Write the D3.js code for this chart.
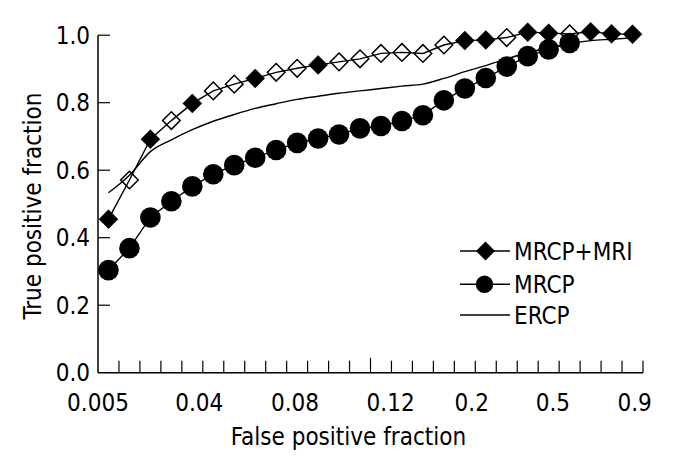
<!DOCTYPE html>
<html>
<head>
<meta charset="utf-8">
<script src="https://cdn.jsdelivr.net/npm/d3@7"></script>
<style>
  html, body { margin: 0; padding: 0; background: #fff; }
  svg text { font-family: "DejaVu Sans Condensed", "DejaVu Sans", sans-serif; font-stretch: condensed; fill: #000; }
</style>
</head>
<body>
<svg id="chart" width="684" height="459"></svg>
<script>
// ---- data ----
const seriesNames = ["MRCP+MRI", "MRCP", "ERCP"];
const xTickLabels = ["0.005", "0.04", "0.08", "0.12", "0.2", "0.5", "0.9"];
// position of each x tick label, in units of point index
const xTickLabelAt = [0, 4.83, 9.4, 13.96, 17.83, 21.7, 25.6];
const yTickValues = [0, 0.2, 0.4, 0.6, 0.8, 1.0];
const nCategories = 26;

const mrcpMri = [0.455, 0.571, 0.692, 0.747, 0.798, 0.835, 0.855, 0.872, 0.890, 0.902,
                 0.912, 0.921, 0.930, 0.946, 0.949, 0.946, 0.971, 0.984, 0.986, 0.993,
                 1.009, 1.006, 1.004, 1.010, 1.004, 1.003];
// which MRCP+MRI points are drawn hollow
const mrcpMriHollow = [0,1,0,1,0,1,1,0,1,1,0,1,1,1,1,1,1,0,0,1,0,0,1,0,0,0];
const mrcp = [0.304, 0.369, 0.460, 0.508, 0.552, 0.588, 0.615, 0.637, 0.660, 0.681,
              0.694, 0.706, 0.724, 0.731, 0.746, 0.763, 0.807, 0.842, 0.873, 0.907,
              0.938, 0.958, 0.977];
const ercp = [0.533, 0.585, 0.655, 0.690, 0.720, 0.745, 0.765, 0.783, 0.797, 0.810,
              0.819, 0.828, 0.835, 0.842, 0.849, 0.855, 0.872, 0.892, 0.910, 0.930,
              0.948, 0.962, 0.975, 0.984, 0.988, 0.992];

// ---- layout ----
const svg = d3.select("#chart");
const pLeft = 98, pRight = 643, pTop = 35.2, pBottom = 372.7;
const x = d3.scaleLinear().domain([0, nCategories]).range([pLeft, pRight]);
const y = d3.scaleLinear().domain([0, 1]).range([pBottom, pTop]);
const cx = i => x(i + 0.5);

// axes lines
const g = svg.append("g");
g.append("line").attr("x1", pLeft).attr("x2", pLeft).attr("y1", pTop).attr("y2", pBottom)
  .attr("stroke", "#000").attr("stroke-width", 1.5);
g.append("line").attr("x1", pLeft).attr("x2", pRight).attr("y1", pBottom).attr("y2", pBottom)
  .attr("stroke", "#000").attr("stroke-width", 1.5);

// x tick marks (inward)
g.selectAll(".xt").data(d3.range(1, nCategories + 1)).enter().append("line")
  .attr("x1", d => x(d)).attr("x2", d => x(d))
  .attr("y1", pBottom).attr("y2", d => pBottom - (d === 13 ? 15 : 12))
  .attr("stroke", "#000").attr("stroke-width", 1.2);

// y tick marks (inward)
g.selectAll(".yt").data(yTickValues.filter(v => v > 0)).enter().append("line")
  .attr("x1", pLeft).attr("x2", pLeft + 12)
  .attr("y1", d => y(d)).attr("y2", d => y(d))
  .attr("stroke", "#000").attr("stroke-width", 1.2);

// y tick labels
g.selectAll(".yl").data(yTickValues).enter().append("text")
  .attr("x", 90).attr("y", d => y(d) + 8.5)
  .attr("text-anchor", "end").attr("font-size", 24)
  .text(d => d.toFixed(1));

// x tick labels
g.selectAll(".xl").data(xTickLabels).enter().append("text")
  .attr("x", (d, i) => x(xTickLabelAt[i])).attr("y", 411)
  .attr("text-anchor", "middle").attr("font-size", 24)
  .text(d => d);

// axis titles
svg.append("text").attr("x", 348.5).attr("y", 445).attr("text-anchor", "middle")
  .attr("font-size", 24).text("False positive fraction");
svg.append("text").attr("transform", "translate(41,206) rotate(-90)")
  .attr("text-anchor", "middle").attr("font-size", 24).text("True positive fraction");

// lines
const line = d3.line().x((d, i) => cx(i)).y(d => y(d));
const smooth = d3.line().x((d, i) => cx(i)).y(d => y(d)).curve(d3.curveMonotoneX);
svg.append("path").attr("d", smooth(ercp)).attr("fill", "none").attr("stroke", "#000").attr("stroke-width", 1.4);
svg.append("path").attr("d", line(mrcp)).attr("fill", "none").attr("stroke", "#000").attr("stroke-width", 1.4);
svg.append("path").attr("d", line(mrcpMri)).attr("fill", "none").attr("stroke", "#000").attr("stroke-width", 1.4);

// markers
const diamond = (r) => `M0,${-r}L${r},0L0,${r}L${-r},0Z`;
svg.selectAll(".circ").data(mrcp).enter().append("circle")
  .attr("cx", (d, i) => cx(i)).attr("cy", d => y(d)).attr("r", 10.3).attr("fill", "#000");
svg.selectAll(".dia").data(mrcpMri).enter().append("path")
  .attr("transform", (d, i) => `translate(${cx(i)},${y(d)})`)
  .attr("d", (d, i) => diamond(mrcpMriHollow[i] ? 8.8 : 9.5))
  .attr("fill", (d, i) => mrcpMriHollow[i] ? "none" : "#000")
  .attr("stroke", "#000").attr("stroke-width", (d, i) => mrcpMriHollow[i] ? 1.5 : 0.5);

// legend
const legY = [251, 284.3, 315];
const leg = svg.append("g");
seriesNames.forEach((name, i) => {
  leg.append("line").attr("x1", 460).attr("x2", 510).attr("y1", legY[i]).attr("y2", legY[i])
    .attr("stroke", "#000").attr("stroke-width", 1.5);
  if (i === 0) leg.append("path").attr("transform", `translate(485.5,${legY[i]})`).attr("d", diamond(9.5)).attr("fill", "#000");
  if (i === 1) leg.append("circle").attr("cx", 484.5).attr("cy", legY[i]).attr("r", 8.7).attr("fill", "#000");
  leg.append("text").attr("x", 514).attr("y", legY[i] + 9).attr("font-size", 24).text(name);
});
</script>
</body>
</html>
